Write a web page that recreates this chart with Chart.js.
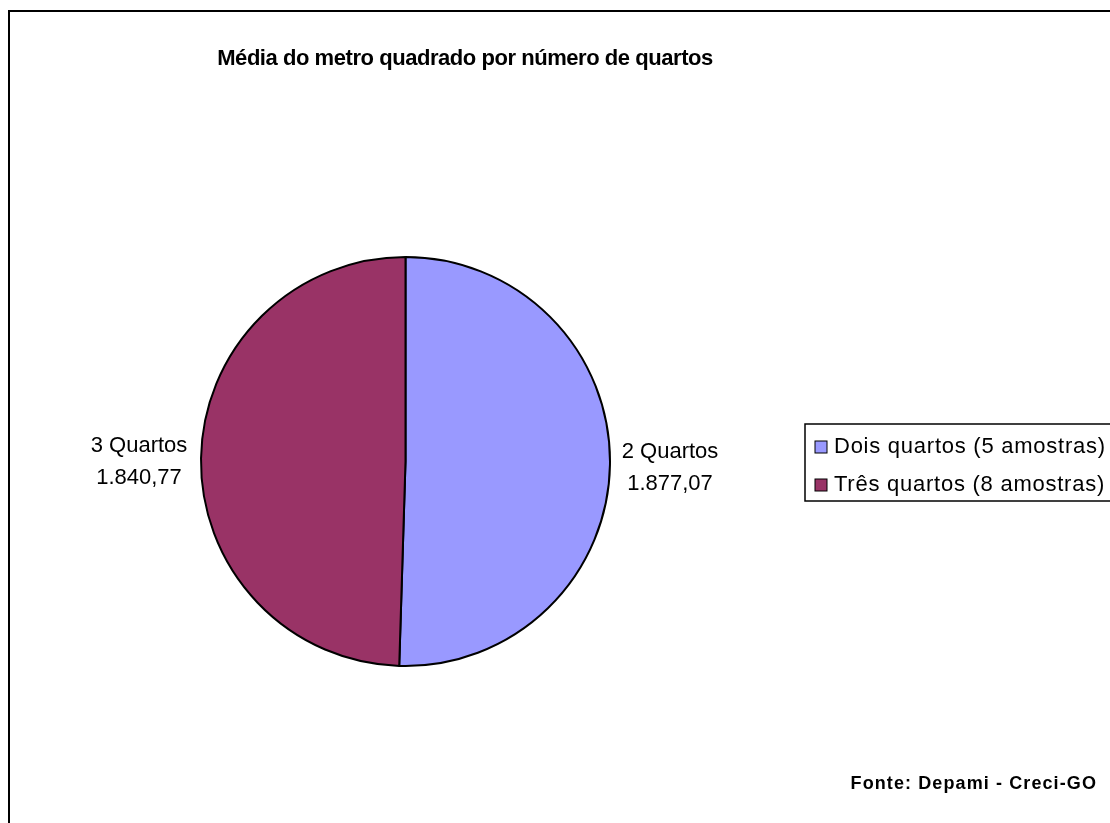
<!DOCTYPE html>
<html>
<head>
<meta charset="utf-8">
<script src="https://cdn.jsdelivr.net/npm/chart.js@4"></script>
<style>
  html, body { margin: 0; padding: 0; background: #fff; }
  #wrap { width: 1110px; height: 823px; position: relative; }
</style>
</head>
<body>
<div id="wrap"><canvas id="pieChart" width="1110" height="823"></canvas></div>
<script>
// data
const categories = ['2 Quartos', '3 Quartos'];
const legendLabels = ['Dois quartos (5 amostras)', 'Três quartos (8 amostras)'];
const values = [1877.07, 1840.77];
const valueLabels = ['1.877,07', '1.840,77'];
const colors = ['#9999FF', '#993366'];

const titleText = 'Média do metro quadrado por número de quartos';
const sourceText = 'Fonte: Depami - Creci-GO';
const FONT = '"Liberation Sans", Arial, sans-serif';

/* frame, title, labels, legend, source */
const decorations = {
  id: 'decorations',
  beforeDraw(chart) {
    const c = chart.ctx;
    c.save();
    c.fillStyle = '#fff';
    c.fillRect(0, 0, chart.width, chart.height);
    c.restore();
  },
  afterDraw(chart) {
    const c = chart.ctx;
    const hasSpacing = 'letterSpacing' in c;
    c.save();

    // outer frame
    c.strokeStyle = '#000';
    c.lineWidth = 2;
    c.strokeRect(9, 11, 1120, 830);

    // title
    c.fillStyle = '#000';
    c.font = 'bold 22px ' + FONT;
    c.textAlign = 'center';
    c.textBaseline = 'middle';
    if (hasSpacing) c.letterSpacing = '-0.45px';
    c.fillText(titleText, 465, 59);
    if (hasSpacing) c.letterSpacing = '0px';

    // slice labels
    c.font = '22px ' + FONT;
    const labelPos = [[670, 452], [139, 446]];
    categories.forEach((cat, i) => {
      const [x, y] = labelPos[i];
      c.fillText(cat, x, y);
      c.fillText(valueLabels[i], x, y + 32);
    });

    // legend box
    c.lineWidth = 1.5;
    c.strokeRect(805, 424, 320, 77);
    c.textAlign = 'left';
    c.font = '22px ' + FONT;
    if (hasSpacing) c.letterSpacing = '0.75px';
    legendLabels.forEach((lab, i) => {
      const y = 447 + i * 38;
      c.fillStyle = colors[i];
      c.fillRect(815, y - 6, 12, 12);
      c.strokeStyle = '#000';
      c.lineWidth = 1;
      c.strokeRect(815, y - 6, 12, 12);
      c.fillStyle = '#000';
      c.fillText(lab, 834, y);
    });

    // source
    c.font = 'bold 18px ' + FONT;
    c.textAlign = 'right';
    if (hasSpacing) c.letterSpacing = '1.1px';
    c.fillText(sourceText, 1097, 784);
    if (hasSpacing) c.letterSpacing = '0px';

    c.restore();
  }
};

new Chart(document.getElementById('pieChart'), {
  type: 'pie',
  data: {
    labels: categories,
    datasets: [{
      data: values,
      backgroundColor: colors,
      borderColor: '#000',
      borderWidth: 2
    }]
  },
  options: {
    responsive: false,
    animation: false,
    devicePixelRatio: 1,
    layout: { padding: { left: 200, right: 499, top: 256, bottom: 156 } },
    plugins: {
      legend: { display: false },
      title: { display: false },
      tooltip: { enabled: false }
    }
  },
  plugins: [decorations]
});
</script>
</body>
</html>
